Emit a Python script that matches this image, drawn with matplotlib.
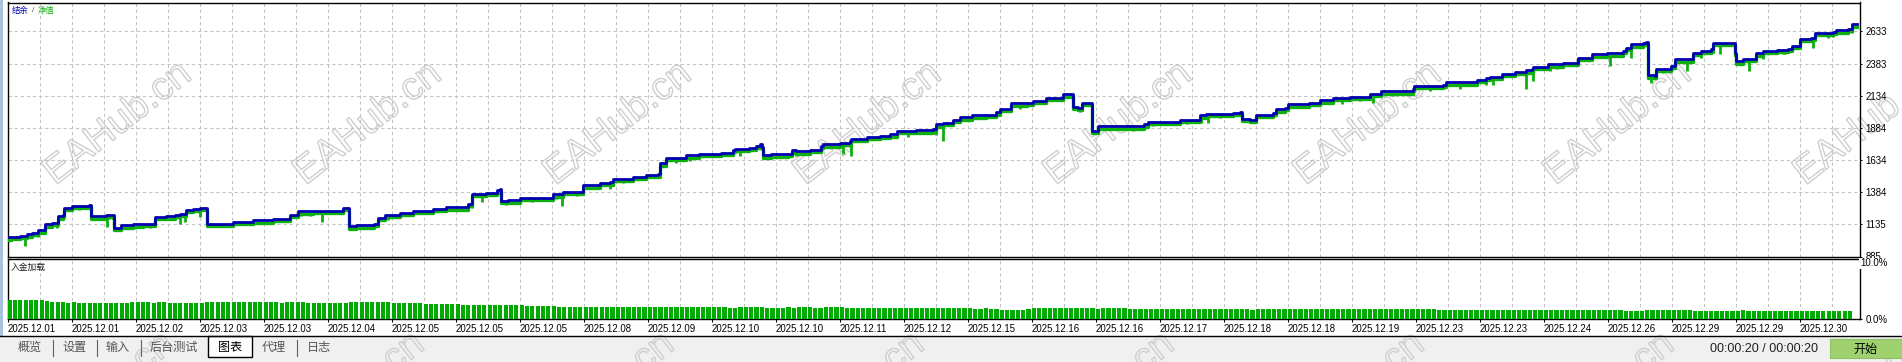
import numpy as np
import matplotlib
matplotlib.use('Agg')
import matplotlib.pyplot as plt
import matplotlib.patheffects as pe
from matplotlib.patches import Rectangle
from matplotlib.lines import Line2D
from matplotlib.transforms import blended_transform_factory

plt.rcParams['font.family'] = ['Liberation Sans', 'Noto Sans CJK SC', 'DejaVu Sans']
plt.rcParams['lines.scale_dashes'] = False

# ---- data (x in date-label units, value in account currency) ----
bal_x = [0.00, 0.06, 0.19, 0.31, 0.38, 0.47, 0.58, 0.69, 0.79, 0.86,
         0.89, 1.00, 1.28, 1.31, 1.54, 1.65, 1.67, 1.78, 1.96, 2.11,
         2.30, 2.48, 2.61, 2.69, 2.79, 2.90, 3.00, 3.09, 3.11, 3.36,
         3.52, 3.83, 4.15, 4.41, 4.54, 4.77, 5.24, 5.33, 5.34, 5.45,
         5.73, 5.79, 5.89, 6.13, 6.33, 6.65, 6.85, 7.19, 7.25, 7.48,
         7.64, 7.69, 7.71, 7.82, 8.00, 8.47, 8.52, 8.68, 8.99, 9.25,
         9.41, 9.46, 9.77, 9.98, 10.16, 10.19, 10.29, 10.60, 10.81, 11.15,
         11.33, 11.36, 11.59, 11.70, 11.75, 11.78, 11.80, 11.93, 12.19, 12.25,
         12.32, 12.53, 12.71, 12.74, 13.00, 13.16, 13.18, 13.42, 13.63, 13.78,
         13.89, 14.20, 14.46, 14.51, 14.61, 14.77, 14.88, 15.06, 15.29, 15.45,
         15.50, 15.68, 15.92, 16.02, 16.23, 16.49, 16.62, 16.64, 16.72, 16.78,
         16.93, 16.95, 17.04, 17.75, 17.82, 18.31, 18.63, 18.73, 19.15, 19.25,
         19.29, 19.41, 19.51, 19.77, 19.82, 19.95, 20.00, 20.34, 20.50, 20.71,
         20.97, 21.28, 21.46, 21.96, 21.98, 22.43, 22.48, 22.95, 23.10, 23.16,
         23.34, 23.55, 23.73, 23.81, 23.83, 24.07, 24.30, 24.54, 24.75, 24.98,
         25.24, 25.29, 25.37, 25.55, 25.60, 25.63, 25.73, 25.76, 25.99, 26.05,
         26.23, 26.33, 26.46, 26.62, 26.65, 26.96, 26.98, 27.01, 27.11, 27.32,
         27.43, 27.64, 27.82, 27.87, 28.00, 28.18, 28.23, 28.52, 28.57, 28.75,
         28.81, 28.89]

balance = [1033, 1040, 1048, 1056, 1068, 1089, 1134, 1147, 1198, 1206,
           1263, 1281, 1284, 1198, 1206, 1204, 1108, 1128, 1134, 1141,
           1193, 1198, 1209, 1219, 1245, 1256, 1263, 1263, 1141, 1141,
           1152, 1167, 1180, 1211, 1237, 1242, 1263, 1263, 1120, 1126,
           1141, 1186, 1206, 1225, 1242, 1256, 1268, 1294, 1372, 1380,
           1400, 1406, 1315, 1320, 1338, 1341, 1367, 1385, 1437, 1458,
           1462, 1489, 1504, 1520, 1524, 1608, 1652, 1670, 1685, 1691,
           1711, 1722, 1730, 1747, 1755, 1737, 1670, 1678, 1683, 1709,
           1703, 1716, 1742, 1755, 1768, 1781, 1799, 1812, 1820, 1833,
           1859, 1866, 1877, 1911, 1924, 1949, 1967, 1981, 1988, 2006,
           2033, 2074, 2079, 2092, 2118, 2144, 2149, 2045, 2040, 2079,
           2079, 1859, 1897, 1911, 1932, 1949, 1981, 1994, 2002, 2009,
           1955, 1944, 1988, 2002, 2027, 2040, 2066, 2079, 2099, 2118,
           2126, 2149, 2169, 2188, 2208, 2221, 2239, 2255, 2274, 2281,
           2305, 2317, 2330, 2338, 2356, 2377, 2390, 2429, 2455, 2462,
           2480, 2507, 2532, 2545, 2550, 2291, 2286, 2343, 2364, 2416,
           2416, 2468, 2480, 2493, 2545, 2545, 2468, 2402, 2421, 2462,
           2480, 2488, 2499, 2519, 2576, 2581, 2623, 2631, 2641, 2654,
           2688, 2688]

equity = [1015, 1022, 1030, 1038, 1050, 1071, 1116, 1129, 1180, 1188,
          1245, 1263, 1266, 1180, 1188, 1186, 1090, 1110, 1116, 1123,
          1175, 1180, 1191, 1201, 1227, 1238, 1245, 1245, 1123, 1123,
          1134, 1149, 1162, 1193, 1219, 1224, 1245, 1245, 1102, 1108,
          1123, 1168, 1188, 1207, 1224, 1238, 1250, 1276, 1354, 1362,
          1382, 1388, 1297, 1302, 1320, 1323, 1349, 1367, 1419, 1440,
          1444, 1471, 1486, 1502, 1506, 1590, 1634, 1652, 1667, 1673,
          1693, 1704, 1712, 1729, 1737, 1719, 1652, 1660, 1665, 1691,
          1685, 1698, 1724, 1737, 1750, 1763, 1781, 1794, 1802, 1815,
          1841, 1848, 1859, 1893, 1906, 1931, 1949, 1963, 1970, 1988,
          2015, 2056, 2061, 2074, 2100, 2126, 2131, 2027, 2022, 2061,
          2061, 1841, 1879, 1893, 1914, 1931, 1963, 1976, 1984, 1991,
          1937, 1926, 1970, 1984, 2009, 2022, 2048, 2061, 2081, 2100,
          2108, 2131, 2151, 2170, 2190, 2203, 2221, 2237, 2256, 2263,
          2287, 2299, 2312, 2320, 2338, 2359, 2372, 2411, 2437, 2444,
          2462, 2489, 2514, 2527, 2532, 2273, 2268, 2325, 2346, 2398,
          2398, 2450, 2462, 2475, 2527, 2527, 2450, 2384, 2403, 2444,
          2462, 2470, 2481, 2501, 2558, 2563, 2605, 2613, 2623, 2636,
          2670, 2670]

# equity drawdown spikes: position and lowest value
dip_x = [0.28, 0.47, 0.78, 1.55, 1.75, 1.95, 2.06, 2.69, 3.00, 3.98,
         4.92, 5.66, 5.95, 7.25, 7.42, 8.67, 9.41, 9.98, 10.45, 10.66,
         11.45, 13.05, 13.18, 14.07, 14.51, 14.61, 17.01, 17.58, 18.03, 18.65,
         18.75, 19.46, 20.84, 21.33, 21.96, 23.10, 23.20, 23.72, 23.83, 25.03,
         25.37, 25.68, 26.23, 26.46, 26.75, 27.21, 27.42, 27.64, 27.77, 28.21,
         28.44, 28.73, 28.81]
dip_low = [965, 1033, 1110, 1118, 1087, 1103, 1110, 1134, 1188, 1149,
           1152, 1108, 1165, 1258, 1312, 1276, 1406, 1478, 1613, 1625,
           1664, 1678, 1664, 1815, 1825, 1781, 1841, 1859, 1903, 1924,
           1924, 1924, 2071, 2079, 2144, 2214, 2221, 2188, 2247, 2364,
           2429, 2234, 2325, 2429, 2455, 2325, 2416, 2455, 2455, 2507,
           2584, 2610, 2623]

# smaller equity wobbles
small_dip_x = [1.12, 1.59, 1.96, 2.22, 2.53, 2.77, 3.52, 4.58, 4.72, 6.13,
               6.85, 7.17, 7.79, 8.20, 8.57, 8.89, 9.15, 9.61, 10.40, 10.97,
               11.28, 12.06, 12.32, 12.64, 13.36, 13.78, 14.30, 14.93, 15.24, 15.81,
               16.33, 16.75, 17.22, 17.90, 18.42, 18.94, 19.98, 20.50, 21.13, 21.65,
               22.22, 22.69, 24.09, 24.20, 24.67, 25.24, 25.86, 25.99, 26.91, 27.74,
               28.52]
small_dip_low = [1250, 1175, 1108, 1110, 1165, 1152, 1126, 1198, 1200, 1198,
                 1238, 1238, 1285, 1307, 1328, 1352, 1411, 1458, 1625, 1664,
                 1664, 1648, 1664, 1691, 1773, 1794, 1833, 1936, 1955, 2027,
                 2092, 2010, 1866, 1897, 1918, 1963, 2014, 2053, 2092, 2131,
                 2169, 2188, 2325, 2338, 2403, 2442, 2312, 2351, 2519, 2455,
                 2592]

# deposit load (%), 12 bars per date label
load = [3.2, 3.1, 3.1, 3.2, 3.1, 3.2, 3.1, 3.0, 2.8, 2.8, 2.8, 2.7,
        2.8, 2.7, 2.7, 2.6, 2.6, 2.6, 2.6, 2.6, 2.7, 2.7, 2.7, 2.8,
        2.8, 2.8, 2.8, 2.7, 2.8, 2.8, 2.7, 2.7, 2.7, 2.7, 2.7, 2.6,
        2.6, 2.8, 2.8, 2.8, 2.8, 2.8, 2.8, 2.8, 2.8, 2.8, 2.8, 2.8,
        2.8, 2.8, 2.8, 2.7, 2.8, 2.8, 2.8, 2.8, 2.7, 2.7, 2.7, 2.7,
        2.7, 2.7, 2.7, 2.7, 2.8, 2.8, 2.9, 2.9, 2.8, 2.8, 2.8, 2.8,
        2.7, 2.7, 2.7, 2.6, 2.6, 2.6, 2.5, 2.5, 2.5, 2.5, 2.5, 2.5,
        2.5, 2.4, 2.4, 2.4, 2.4, 2.4, 2.4, 2.3, 2.3, 2.3, 2.3, 2.3,
        2.3, 2.2, 2.2, 2.2, 2.2, 2.2, 2.2, 2.1, 2.1, 2.1, 2.1, 2.1,
        2.1, 2.1, 2.1, 2.0, 2.0, 2.0, 2.1, 2.1, 2.1, 2.0, 2.0, 2.0,
        2.0, 2.0, 2.0, 2.0, 2.0, 2.0, 2.1, 2.0, 2.0, 2.0, 2.0, 2.0,
        2.0, 2.0, 2.0, 1.9, 1.9, 2.0, 2.1, 2.1, 2.0, 2.0, 1.9, 1.9,
        1.9, 1.9, 2.0, 1.9, 2.0, 2.0, 2.0, 1.9, 1.9, 2.0, 2.0, 2.0,
        2.0, 1.9, 1.9, 1.9, 1.9, 1.9, 1.9, 1.9, 1.9, 1.9, 1.9, 1.9,
        1.9, 1.8, 1.8, 1.8, 1.8, 1.8, 1.8, 1.8, 1.8, 1.8, 1.8, 1.8,
        1.8, 1.7, 1.7, 1.8, 1.7, 1.7, 1.6, 1.6, 1.5, 1.5, 1.6, 1.7,
        1.8, 1.9, 1.9, 1.9, 1.9, 1.9, 1.9, 1.9, 1.9, 1.8, 1.8, 1.8,
        1.7, 1.8, 1.8, 1.8, 1.8, 1.8, 1.7, 1.7, 1.7, 1.7, 1.7, 1.7,
        1.7, 1.7, 1.7, 1.7, 1.7, 1.7, 1.7, 1.7, 1.7, 1.7, 1.7, 1.7,
        1.7, 1.7, 1.7, 1.7, 1.7, 1.6, 1.7, 1.7, 1.7, 1.7, 1.7, 1.7,
        1.7, 1.7, 1.7, 1.7, 1.7, 1.7, 1.7, 1.7, 1.7, 1.7, 1.7, 1.7,
        1.7, 1.7, 1.7, 1.7, 1.7, 1.7, 1.7, 1.7, 1.7, 1.7, 1.7, 1.7,
        1.7, 1.7, 1.7, 1.7, 1.6, 1.6, 1.5, 1.5, 1.5, 1.5, 1.5, 1.5,
        1.5, 1.5, 1.5, 1.5, 1.5, 1.5, 1.6, 1.5, 1.5, 1.5, 1.5, 1.5,
        1.5, 1.5, 1.5, 1.5, 1.5, 1.5, 1.5, 1.5, 1.5, 1.5, 1.5, 1.5,
        1.5, 1.5, 1.5, 1.4, 1.4, 1.4, 1.4, 1.5, 1.5, 1.5, 1.5, 1.5,
        1.5, 1.5, 1.5, 1.5, 1.4, 1.4, 1.4, 1.4, 1.4, 1.4, 1.4, 1.4,
        1.4, 1.5, 1.4, 1.4, 1.4, 1.4, 1.4, 1.4, 1.4, 1.4, 1.4, 1.4,
        1.4, 1.4, 1.4, 1.4, 1.4, 1.4, 1.4, 1.4, 1.4, 1.4]

date_labels = ['2025.12.01', '2025.12.01', '2025.12.02', '2025.12.03', '2025.12.03',
               '2025.12.04', '2025.12.05', '2025.12.05', '2025.12.05', '2025.12.08',
               '2025.12.09', '2025.12.10', '2025.12.10', '2025.12.11', '2025.12.12',
               '2025.12.15', '2025.12.16', '2025.12.16', '2025.12.17', '2025.12.18',
               '2025.12.18', '2025.12.19', '2025.12.23', '2025.12.23', '2025.12.24',
               '2025.12.26', '2025.12.29', '2025.12.29', '2025.12.30']

y_ticks = [885, 1135, 1384, 1634, 1884, 2134, 2383, 2633]
y_labels = ['885', '1135', '1384', '1634', '1884', '2134', '2383', '2633']

tabs = ['概览', '设置', '输入', '后台测试', '图表', '代理', '日志']

BLUE = '#0000b0'
GREEN = '#0db00d'
BAR_GREEN = '#00ab00'
GRID = '#c4c4c4'
DASH = (0, (2.4, 2.0))

W, H = 1902, 362


def px_box(x0, y0, x1, y1):
    return [x0 / W, 1 - y1 / H, (x1 - x0) / W, (y1 - y0) / H]


def fx(x):
    return x / W


def fy(y):
    return 1 - y / H


fig = plt.figure(figsize=(W / 100, H / 100), dpi=100)
fig.patch.set_facecolor('white')

# window chrome: left strip and bottom tab bar
fig.add_artist(Rectangle((0, fy(336)), fx(2.5), 336 / H, transform=fig.transFigure,
                         facecolor='#a9c3de', edgecolor='none', zorder=-3))
fig.add_artist(Rectangle((0, 0), 1, fy(336), transform=fig.transFigure,
                         facecolor='#f0f0f0', edgecolor='none', zorder=-3))

# watermark
for row_x, row_y in [(118, 124), (101, 394)]:
    for k in range(8):
        fig.text(fx(row_x + 250 * k), fy(row_y), 'EAHub.cn', fontsize=28, rotation=38,
                 ha='center', va='center', color=(1, 1, 1, 0), family='Liberation Sans',
                 rotation_mode='anchor', zorder=-1,
                 path_effects=[pe.Stroke(linewidth=1.0, foreground='#cfcfcf')])

# ---- main panel: balance / equity ----
ax = fig.add_axes(px_box(7.5, 2.5, 1860, 256.5))
ax.set_facecolor('none')
eq_arr = np.array(equity)
ax.plot(bal_x, equity, drawstyle='steps-post', color=GREEN, lw=2.4, zorder=3)
for xs, lows in [(dip_x, dip_low), (small_dip_x, small_dip_low)]:
    idx = np.searchsorted(bal_x, xs, side='right') - 1
    ax.vlines(xs, lows, eq_arr[idx], color=GREEN, lw=2.0, zorder=3)
ax.plot(bal_x, balance, drawstyle='steps-post', color=BLUE, lw=2.0, zorder=4)
ax.set_xlim(0, 28.94)
ax.set_ylim(885, 2858)
ax.set_xticks(np.arange(0.5, 29, 0.5))
ax.set_yticks(y_ticks)
ax.set_yticklabels(y_labels)
ax.yaxis.tick_right()
ax.tick_params(axis='x', length=0, labelbottom=False)
ax.tick_params(axis='y', length=1.5, width=0.75, pad=2.5, labelsize=6.9)
ax.grid(True, color=GRID, lw=0.75, ls=DASH)
for s in ax.spines.values():
    s.set_linewidth(1.0)

fig.text(fx(12), fy(11), '结余', color=BLUE, fontsize=6, va='center',
         family=['Noto Sans CJK SC', 'DejaVu Sans'])
fig.text(fx(32), fy(11), '/', color='#505050', fontsize=6, va='center')
fig.text(fx(38), fy(11), '净值', color=GREEN, fontsize=6, va='center',
         family=['Noto Sans CJK SC', 'DejaVu Sans'])

# ---- lower panel: deposit load ----
ax2 = fig.add_axes(px_box(7.5, 258.5, 1860, 319.3))
ax2.set_facecolor('none')
ax2.bar(np.arange(len(load)) / 12, load, width=0.066, align='edge',
        color=BAR_GREEN, zorder=3)
ax2.set_xlim(0, 28.94)
ax2.set_ylim(0, 10)
ax2.set_xticks(np.arange(len(date_labels)))
ax2.set_xticklabels(date_labels, ha='left')
ax2.set_xticks(np.arange(0.5, 29, 1.0), minor=True)
ax2.tick_params(axis='x', which='major', length=2, width=0.75, pad=1.3, labelsize=6.9)
ax2.tick_params(axis='x', which='minor', length=0)
ax2.grid(True, axis='x', which='both', color=GRID, lw=0.75, ls=DASH)
ax2.yaxis.tick_right()
ax2.set_yticks([0])
ax2.set_yticklabels(['0.0%'])
ax2.tick_params(axis='y', length=1.5, width=0.75, pad=2.5, labelsize=6.9)
ax2.text(1.0, 10, '10.0%', transform=blended_transform_factory(ax2.transAxes, ax2.transData),
         ha='left', va='top', fontsize=6.9, zorder=5,
         bbox=dict(facecolor='white', edgecolor='none', pad=0.6))
for s in ax2.spines.values():
    s.set_linewidth(1.0)

fig.text(fx(11), fy(267), '入金加载', color='#202020', fontsize=6.3, va='center',
         family=['Noto Sans CJK SC', 'DejaVu Sans'])

# ---- tab bar ----
fig.add_artist(Line2D([0, 1], [fy(336), fy(336)], transform=fig.transFigure,
                      color='black', lw=1.0))
tab_x = [18, 62, 106, 150, 218, 262, 307]
sep_x = [52.7, 96.7, 140.7, 296.7]
for name, x in zip(tabs, tab_x):
    fig.text(fx(x), fy(347), name, fontsize=8.7, va='center', ha='left',
             color='black' if name == '图表' else '#555555', zorder=2,
             family=['Noto Sans CJK SC', 'DejaVu Sans'])
for x in sep_x:
    fig.add_artist(Line2D([fx(x), fx(x)], [fy(340), fy(356)], transform=fig.transFigure,
                          color='#606060', lw=0.8))
fig.add_artist(Rectangle((fx(208), fy(357)), fx(252) - fx(208), fy(336) - fy(357),
                         transform=fig.transFigure, facecolor='white', edgecolor='black',
                         lw=1.0, zorder=1))

fig.text(fx(1710), fy(349), '00:00:20 / 00:00:20', fontsize=9, va='center', ha='left',
         color='#202020')
fig.add_artist(Rectangle((fx(1830), fy(358.3)), fx(1902) - fx(1830), fy(339.3) - fy(358.3),
                         transform=fig.transFigure, facecolor='#9fd16f', edgecolor='#8cc060',
                         lw=0.8, zorder=1))
fig.text(fx(1866), fy(349), '开始', fontsize=8.7, va='center', ha='center', color='black',
         zorder=2, family=['Noto Sans CJK SC', 'DejaVu Sans'])

fig.savefig('out.png', dpi=100, facecolor='white')
